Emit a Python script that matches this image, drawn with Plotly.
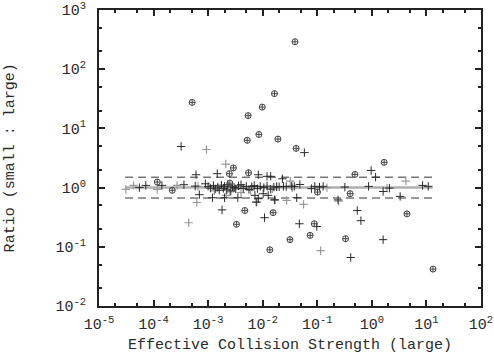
import plotly.graph_objects as go

# Black crosses
black_x = [5.5e-5, 7.2e-5, 1.42e-4, 3.6e-4, 3.2e-4, 6.0e-4, 5.8e-4, 6.9e-4, 8.9e-4, 1.47e-3,
           1.2e-3, 1.8e-3, 2.0e-3, 3.5e-3, 7.2e-3, 8.3e-3, 1.02e-2, 1.26e-2, 1.66e-2, 8.3e-3,
           1.2e-2, 1.4e-2, 5.8e-2, 1.08e-2, 7.6e-3, 2.3e-2, 4.8e-2, 7.8e-2, 9.0e-2, 0.11,
           0.128, 0.32, 0.24, 4.2e-2, 4.7e-2, 9.8e-2, 0.54, 0.63, 0.41, 1.61,
           0.97, 1.17, 0.87, 1.61, 2.1, 3.3, 8.5, 10.8, 1.66e-2,
           1.0e-3, 1.1e-3, 1.25e-3, 1.35e-3, 1.5e-3, 1.6e-3, 1.75e-3, 1.9e-3, 2.0e-3, 2.2e-3,
           2.3e-3, 2.6e-3, 2.8e-3, 3.0e-3, 3.2e-3, 3.6e-3, 4.0e-3, 4.4e-3, 5.0e-3, 5.6e-3,
           6.3e-3, 7.0e-3, 8.0e-3, 9.0e-3, 1.05e-2, 1.2e-2, 1.4e-2, 1.6e-2, 1.8e-2, 2.0e-2,
           2.4e-2, 2.7e-2, 3.4e-2, 3.8e-2]
black_y = [1.0, 1.09, 1.09, 1.12, 4.95, 1.65, 1.06, 0.76, 1.16, 1.72,
           0.675, 0.42, 0.675, 0.675, 0.74, 0.65, 0.79, 0.74, 0.62, 1.65,
           1.55, 1.55, 3.9, 0.31, 0.57, 1.41, 1.13, 0.96, 1.05, 1.02,
           1.05, 1.02, 0.62, 0.675, 0.245, 0.22, 0.41, 0.276, 0.066, 0.132,
           1.95, 1.5, 1.05, 0.86, 0.98, 0.71, 1.09, 1.05, 0.62,
           1.05, 0.98, 1.08, 0.95, 1.02, 0.9, 1.1, 0.97, 1.05, 0.92,
           1.12, 0.88, 1.03, 1.0, 0.95, 1.07, 1.12, 0.97, 1.05, 0.93,
           1.04, 1.08, 0.96, 1.05, 1.0, 1.06, 0.94, 1.02, 1.04, 1.03,
           1.05, 1.04, 1.06, 1.05]

# Gray crosses
gray_x = [3.1e-5, 4.3e-5, 1.17e-4, 2.7e-4, 6.5e-4, 6.2e-4, 4.4e-4, 9.3e-4, 2.1e-3, 2.15e-3,
          7.8e-3, 3.2e-2, 2.75e-2, 5.6e-2, 0.245, 0.115, 1.9, 4.2,
          1.3e-3, 2.5e-3, 4.0e-3, 6.0e-3, 1.5e-2, 1.8e-2, 3.5e-2, 0.15]
gray_y = [0.93, 1.09, 0.93, 1.09, 1.05, 0.56, 0.255, 4.4, 2.5, 0.74,
          0.57, 1.29, 0.61, 0.52, 0.59, 0.086, 0.98, 1.29,
          0.88, 0.85, 0.82, 0.9, 0.95, 1.03, 1.0, 1.0]

# Circle-cross markers
circ_x = [5.1e-4, 5.2e-3, 5.4e-3, 8.5e-3, 9.8e-3, 1.64e-2, 1.9e-2, 3.9e-2, 4.1e-2, 2.9e-3,
          2.45e-3, 5.5e-3, 1.68, 0.49, 1.17e-4, 2.2e-4, 0.101, 0.4, 4.7e-3, 3.3e-3,
          1.55e-2, 1.35e-2, 3.16e-2, 7.4e-2, 8.8e-2, 0.33, 4.4, 13.2, 2.5e-3]
circ_y = [27.5, 6.3, 16.4, 7.9, 22.9, 38.6, 6.6, 291, 4.6, 2.15,
          1.72, 1.78, 2.67, 1.67, 1.24, 0.9, 0.84, 0.79, 0.41, 0.24,
          0.377, 0.089, 0.132, 0.156, 0.245, 0.137, 0.36, 0.042, 1.19]

# Reference lines
line_x = [3.0e-5, 13.0]
unity = 1.0
upper = 1.5
lower = 1 / 1.5

x_ticks = [1e-5, 1e-4, 1e-3, 1e-2, 1e-1, 1e0, 1e1, 1e2]
x_ticktext = ["10<sup>-5</sup>", "10<sup>-4</sup>", "10<sup>-3</sup>", "10<sup>-2</sup>",
              "10<sup>-1</sup>", "10<sup>0</sup>", "10<sup>1</sup>", "10<sup>2</sup>"]
y_ticks = [1e-2, 1e-1, 1e0, 1e1, 1e2, 1e3]
y_ticktext = ["10<sup>-2</sup>", "10<sup>-1</sup>", "10<sup>0</sup>", "10<sup>1</sup>",
              "10<sup>2</sup>", "10<sup>3</sup>"]

x_minor = [m * 10 ** e for e in range(-5, 2) for m in (2, 5)]
y_minor = [m * 10 ** e for e in range(-2, 3) for m in (2, 5)]

FONT = "Liberation Mono, Courier New, monospace"
TXT = "#2a2a2a"

fig = go.Figure()
fig.add_trace(go.Scatter(x=line_x, y=[unity, unity], mode="lines",
                         line=dict(color="#b0b0b0", width=2.5), hoverinfo="skip"))
for v in (upper, lower):
    fig.add_trace(go.Scatter(x=line_x, y=[v, v], mode="lines",
                             line=dict(color="#333333", width=1, dash="8px,5px"), hoverinfo="skip"))
fig.add_trace(go.Scatter(x=gray_x, y=gray_y, mode="markers",
                         marker=dict(symbol="cross-thin-open", size=6, color="#9a9a9a",
                                     line=dict(color="#9a9a9a", width=1.2))))
fig.add_trace(go.Scatter(x=black_x, y=black_y, mode="markers",
                         marker=dict(symbol="cross-thin-open", size=6, color="#2a2a2a",
                                     line=dict(color="#2a2a2a", width=1))))
fig.add_trace(go.Scatter(x=circ_x, y=circ_y, mode="markers",
                         marker=dict(symbol="circle-cross-open", size=6, color="#444444",
                                     line=dict(color="#444444", width=1))))

axis_common = dict(type="log", showgrid=False, zeroline=False, showline=True, linecolor="#222222",
                   linewidth=2, mirror="allticks", ticks="inside", ticklen=6, tickcolor="#222222",
                   tickwidth=1.5, tickfont=dict(family=FONT, size=15, color=TXT), automargin=False,
                   ticklabeloverflow="allow")

fig.update_layout(
    width=494, height=354,
    margin=dict(l=99, r=13, t=10, b=48),
    paper_bgcolor="white", plot_bgcolor="white",
    showlegend=False,
    font=dict(family=FONT, color=TXT),
    xaxis=dict(**axis_common, range=[-5, 2], tickvals=x_ticks, ticktext=x_ticktext,
               minor=dict(tickvals=x_minor, ticks="inside", ticklen=3, tickcolor="#222222"),
               ticklabelstandoff=3),
    yaxis=dict(**axis_common, range=[-2, 3], tickvals=y_ticks, ticktext=y_ticktext,
               minor=dict(tickvals=y_minor, ticks="inside", ticklen=3, tickcolor="#222222"),
               ticklabelstandoff=8),
    annotations=[
        dict(text="Effective Collision Strength (large)", xref="paper", yref="paper",
             x=0.5, y=-0.132, xanchor="center", yanchor="middle", showarrow=False,
             font=dict(family=FONT, size=15, color=TXT)),
        dict(text="Ratio (small : large)", xref="paper", yref="paper",
             x=-0.232, y=0.5, xanchor="center", yanchor="middle", showarrow=False, textangle=-90,
             font=dict(family=FONT, size=15, color=TXT)),
    ],
)

# remove the page's default 8px body margin so the figure sits at the window origin
fig.write_html("out.html", config={"displayModeBar": False},
               post_script="document.body.style.margin='0px';")
